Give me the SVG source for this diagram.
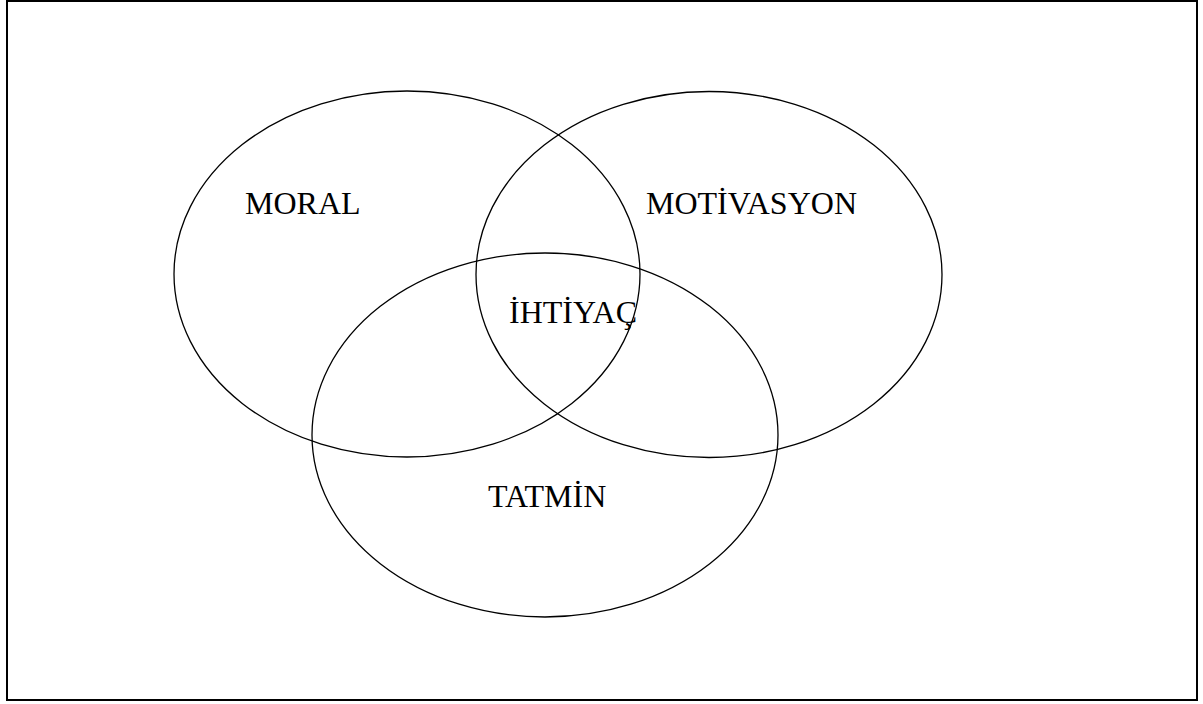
<svg xmlns="http://www.w3.org/2000/svg" width="1203" height="704" viewBox="0 0 1203 704">
<style>
.c{fill:none;stroke:#000;stroke-width:1.3}
.t{font-family:"Liberation Serif","Times New Roman",serif;font-size:32px;fill:#000}
</style>
<rect x="0" y="0" width="1203" height="704" fill="#fff"/>
<rect x="7" y="1" width="1190" height="699" fill="none" stroke="#000" stroke-width="2"/>
<g id="moral"><ellipse class="c" cx="407" cy="274" rx="233" ry="183"/><text class="t" x="245" y="214">MORAL</text></g>
<g id="motivasyon"><ellipse class="c" cx="709" cy="274.5" rx="233" ry="183"/><text class="t" x="646" y="214">MOTİVASYON</text></g>
<g id="tatmin"><ellipse class="c" cx="545" cy="435" rx="233" ry="182"/><text class="t" x="488" y="507">TATMİN</text></g>
<g id="ihtiyac"><text class="t" x="509" y="323">İHTİYAÇ</text></g>
<g id="connectors"/>
</svg>
